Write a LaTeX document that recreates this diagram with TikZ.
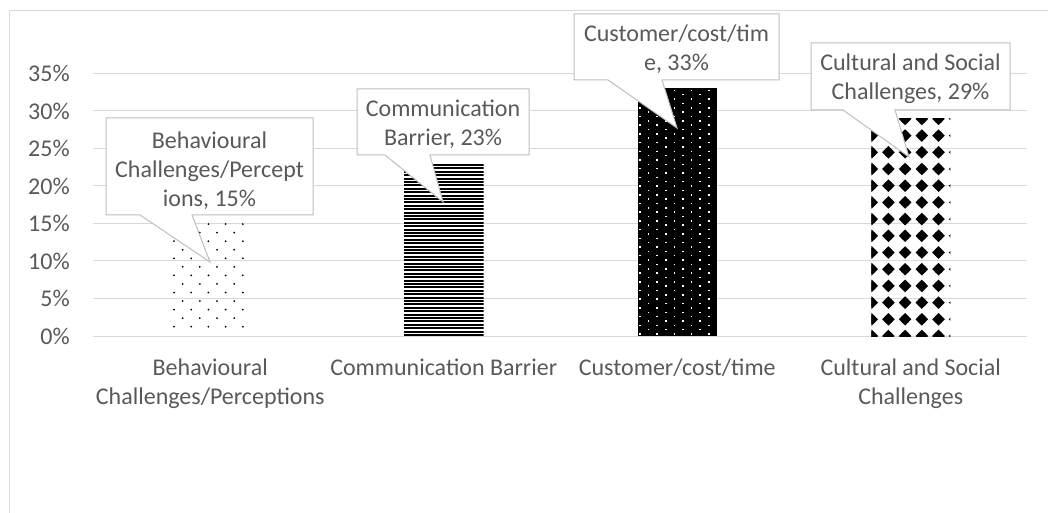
\documentclass[tikz,border=0pt]{standalone}
\usepackage{fontspec}
\setmainfont{Carlito}
\definecolor{gridgray}{HTML}{D9D9D9}
\definecolor{labelgray}{HTML}{595959}
\definecolor{calloutgray}{HTML}{BFBFBF}
% stacked, centred lines whose outer baseline is the first line's baseline
\newcommand{\chartlines}[1]{\begin{tabular}[t]{@{}c@{}}#1\end{tabular}}

\begin{document}
\begin{tikzpicture}[x=0.75pt,y=-0.75pt,
  chartfont/.style={font=\fontsize{18}{21.75}\selectfont, text=labelgray},
  ticklabel/.style={chartfont, anchor=base east, inner sep=0pt},
  catlabel/.style={chartfont, anchor=base, inner sep=0pt},
  callouttext/.style={chartfont, anchor=base, inner sep=0pt},
  gridline/.style={draw=gridgray, line width=0.75pt},
  calloutbox/.style={draw=calloutgray, fill=white, line width=0.75pt, line join=miter},
]
\useasboundingbox (0,0) rectangle (1048,513);
\clip (0,0) rectangle (1048,513);

% chart area border
\draw[gridgray, line width=0.75pt] (9.5,10.5) rectangle (1080,540);

% gridlines and value axis labels
\foreach \v in {0,5,...,35}{
  \pgfmathsetmacro\yy{336-7.514*\v}
  \draw[gridline] (93,\yy) -- (1027,\yy);
  \node[ticklabel] (tick\v) at (70,\yy+8.5) {\v\%};
}

% bar 1: sparse dots (15%)
\begin{scope}
  \clip (170.75,336) rectangle (249.75,223.3);
  \foreach \r in {0,...,13}{
    \pgfmathsetmacro\off{8.6*mod(\r,2)}
    \pgfmathsetmacro\yy{326.7-8.55*\r}
    \foreach \c in {0,...,5}{
      \fill (174+\off+17.2*\c,\yy) circle (0.75pt);
    }
  }
\end{scope}

% bar 2: horizontal stripes (23%)
\begin{scope}
  \clip (404,336) rectangle (483.5,163.2);
  \foreach \k in {0,...,51}{
    \fill (404,336-3.4*\k) rectangle (483.5,336-3.4*\k-2.0);
  }
\end{scope}

% bar 3: black with white dots (33%)
\begin{scope}
  \clip (637.75,336) rectangle (716.75,88.0);
  \fill (637.75,336) rectangle (716.75,88.0);
  \foreach \k in {0,...,9}{
    \pgfmathsetmacro\xx{640+8.6*\k}
    \pgfmathsetmacro\off{4.35*mod(\k,2)}
    \foreach \m in {0,...,29}{
      \pgfmathsetmacro\yy{334-8.7*\m-\off}
      \fill[white] (\xx-0.75,\yy-0.75) rectangle (\xx+0.75,\yy+0.75);
    }
  }
\end{scope}

% bar 4: rounded diamonds (29%)
\begin{scope}
  \clip (871.25,336) rectangle (950.25,118.1);
  \foreach \c in {0,...,5}{
    \foreach \r in {0,...,13}{
      \pgfmathsetmacro\cx{871.7+16.7*\c}
      \pgfmathsetmacro\cy{336-16.7*\r}
      \fill (\cx-6.3,\cy) -- (\cx,\cy-6.3) -- (\cx+6.3,\cy) -- (\cx,\cy+6.3) -- cycle;
      \fill (\cx,\cy) circle (3.4pt);
    }
  }
\end{scope}

% category labels
\node[catlabel] (cat1) at (210.25,375) {\chartlines{Behavioural\\Challenges/Perceptions}};
\node[catlabel] (cat2) at (443.75,375) {Communication Barrier};
\node[catlabel] (cat3) at (677.25,375) {Customer/cost/time};
\node[catlabel] (cat4) at (910.75,375) {\chartlines{Cultural and Social\\Challenges}};

% data callouts
\draw[calloutbox] (106,118) -- (313,118) -- (313,215) -- (192,215) -- (210,262) -- (140,215) -- (106,215) -- cycle;
\node[callouttext] (call1) at (209.5,148.3) {\chartlines{Behavioural\\Challenges/Percept\\ions, 15\%}};

\draw[calloutbox] (357,89) -- (529,89) -- (529,155) -- (430,155) -- (443,202) -- (385,155) -- (357,155) -- cycle;
\node[callouttext] (call2) at (443,116.7) {\chartlines{Communication\\Barrier, 23\%}};

\draw[calloutbox] (574,14) -- (779,14) -- (779,80) -- (662,80) -- (677,128) -- (608,80) -- (574,80) -- cycle;
\node[callouttext] (call3) at (676.5,41.5) {\chartlines{Customer/cost/tim\\e, 33\%}};

\draw[calloutbox] (811,43) -- (1010,43) -- (1010,110) -- (895,110) -- (909,157) -- (843,110) -- (811,110) -- cycle;
\node[callouttext] (call4) at (910.5,70.5) {\chartlines{Cultural and Social\\Challenges, 29\%}};
\end{tikzpicture}
\end{document}
